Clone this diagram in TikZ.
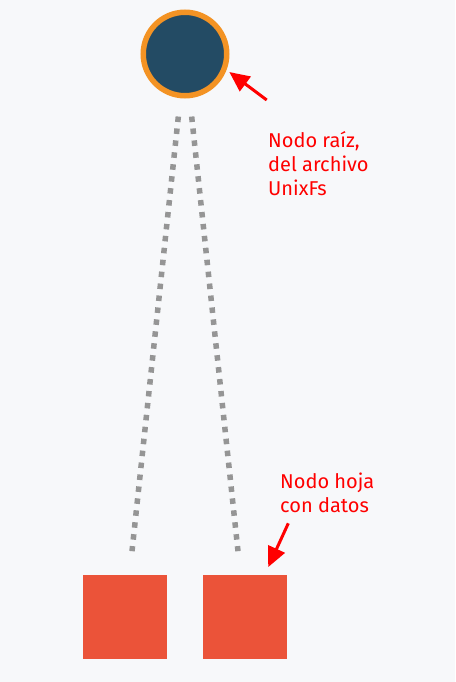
\documentclass[tikz,border=0pt]{standalone}
\usepackage{fontspec}
\setmainfont{Fira Sans}
\usetikzlibrary{arrows.meta}
\definecolor{bgcol}{HTML}{F7F8FA}
\definecolor{rootfill}{HTML}{234B64}
\definecolor{rootring}{HTML}{F39324}
\definecolor{leafcol}{HTML}{EB5339}
\definecolor{linkcol}{HTML}{959595}
\definecolor{notecol}{HTML}{FF0000}

\begin{document}
\begin{tikzpicture}[x=1pt,y=-1pt,
        rootnode/.style={circle, draw=rootring, fill=rootfill, line width=5.5pt, minimum size=83.5pt, inner sep=0pt},
        leafnode/.style={rectangle, fill=leafcol, minimum size=83.5pt, inner sep=0pt, outer sep=0pt},
        link/.style={draw=linkcol, line width=5.5pt, dash pattern=on 5.5pt off 6.5pt},
        pointer/.style={draw=notecol, line width=3pt, -{Triangle[length=20pt,width=18pt]}},
        note/.style={text=notecol, align=left, inner sep=0pt, font=\fontsize{20}{24}\selectfont}]
        \fill[bgcol] (0,0) rectangle (455,682);
        \useasboundingbox (0,0) rectangle (455,682);

        \node[rootnode] (root) at (185,54) {};
        \node[leafnode] (leafA) at (125,617) {};
        \node[leafnode] (leafB) at (245,617) {};

        \draw[link, shorten <=18.4pt, shorten >=24.2pt] (root) -- (leafA);
        \draw[link, shorten <=18.4pt, shorten >=24.2pt] (root) -- (leafB);

        % base anchor sits on the last line
        \node[note, anchor=base west] (rootnote) at (268,195) {Nodo raíz,\\del archivo\\UnixFs};
        \node[note, anchor=base west] (leafnote) at (280,512) {Nodo hoja\\con datos};

        \coordinate (tailA) at (266.7,100);
        \coordinate (tailB) at (288.3,523.3);
        \draw[pointer, shorten >=3.5pt] (tailA) -- (root.-21);
        \draw[pointer, shorten >=9pt] (tailB) -- (leafB.65);
\end{tikzpicture}
\end{document}
